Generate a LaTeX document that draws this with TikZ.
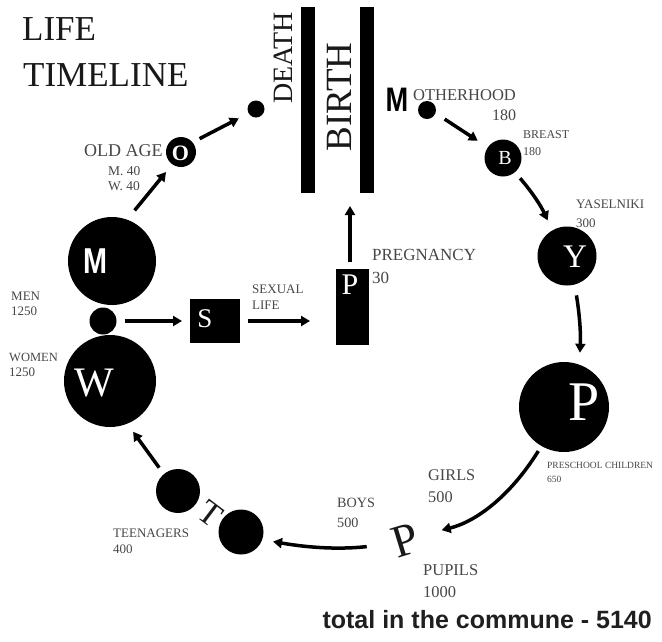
\documentclass[tikz,border=0pt]{standalone}
\usepackage{fontspec}
\setmainfont{Liberation Serif}
\newfontfamily\lsans{Liberation Sans}
\usetikzlibrary{arrows.meta}
\newcommand{\fsz}[1]{\fontsize{#1}{#1}\selectfont}
\begin{document}
\begin{tikzpicture}[x=1pt,y=-1pt,
  blob/.style={circle,fill=black,inner sep=0pt,outer sep=0pt},
  bar/.style={fill=black,inner sep=0pt,outer sep=0pt},
  wl/.style={text=white,inner sep=0pt},
  big/.style={text=black!90,inner sep=0pt},
  arr/.style={line width=3.5pt,-{Triangle[length=9pt,width=10pt]}},
  lab/.style={text=black!72,inner sep=0pt,anchor=base west},
]
\useasboundingbox[fill=white] (0,0) rectangle (662,641);

% title
\node[big,anchor=base west] (t1) at (22,40) {\fsz{35}LIFE};
\node[big,anchor=base west] (t2) at (23,86) {\fsz{35}TIMELINE};

% birth / death bars
\node[bar,minimum width=14pt,minimum height=186pt] (bar1) at (308,100) {};
\node[bar,minimum width=14pt,minimum height=186pt] (bar2) at (367,100) {};
\node[big,rotate=90] (death) at (283,58) {\fsz{28}DEATH};
\node[big,rotate=90] (birth) at (339,97) {\fsz{37}BIRTH};
\coordinate (gate) at (350,193);

% circles and letters
\node[blob,minimum size=17pt] (ddot) at (256,109) {};
\node[blob,minimum size=30pt] (ocirc) at (181,152) {};
\node[wl] (olet) at (180.5,153) {\bfseries\fsz{22}O};
\node[blob,minimum size=88pt] (mcirc) at (112,261) {};
\node[wl,xscale=0.8] (mlet) at (95,261) {\lsans\bfseries\fsz{36}M};
\node[blob,minimum size=27pt] (mwdot) at (103,321) {};
\node[blob,minimum size=92pt] (wcirc) at (110,381) {};
\node[wl] (wlet) at (94,383) {\fsz{42}W};
\node[bar,minimum width=50pt,minimum height=44pt] (sbox) at (215,321) {};
\node[wl] (slet) at (205,319) {\fsz{27}S};
\node[bar,minimum width=33pt,minimum height=76pt] (prect) at (352.5,307) {};
\node[wl] (plet) at (350,285) {\fsz{30}P};
\node[inner sep=0pt,xscale=0.8] (mbig) at (397,100) {\lsans\bfseries\fsz{34}M};
\node[blob,minimum size=18pt] (mdot) at (427,110) {};
\node[blob,minimum size=37pt] (bcirc) at (503,158) {};
\node[wl] (blet) at (505,158) {\fsz{20}B};
\node[blob,minimum size=59pt] (ycirc) at (567,256) {};
\node[wl] (ylet) at (575,257) {\fsz{33}Y};
\node[blob,minimum size=90pt] (pcirc) at (564,407) {};
\node[wl] (pbig) at (584,402) {\fsz{56}P};
\node[big,rotate=17] (pupP) at (405,540) {\fsz{46}P};
\node[blob,minimum size=45pt] (tcircR) at (241,532) {};
\node[blob,minimum size=44pt] (tcircL) at (178,491) {};
\node[big,rotate=-37] (tlet) at (210,514) {\fsz{34}T};

% labels
\node[lab] (oldage) at (84,156) {\fsz{18}OLD AGE};
\node[lab] (oldm) at (108,175) {\fsz{13.5}M. 40};
\node[lab] (oldw) at (108,190) {\fsz{13.5}W. 40};
\node[lab] (men) at (11,300) {\fsz{13}MEN};
\node[lab] (menn) at (11,315) {\fsz{13}1250};
\node[lab] (women) at (9,361) {\fsz{12.5}WOMEN};
\node[lab] (womenn) at (9,376) {\fsz{13}1250};
\node[lab] (sex1) at (252,293) {\fsz{13}SEXUAL};
\node[lab] (sex2) at (252,309) {\fsz{13}LIFE};
\node[lab] (preg) at (372,260) {\fsz{17}PREGNANCY};
\node[lab] (pregn) at (372,283) {\fsz{17}30};
\node[lab] (moth) at (413,100) {\fsz{16.5}OTHERHOOD};
\node[lab] (mothn) at (492,120) {\fsz{16}180};
\node[lab] (breast) at (523,138) {\fsz{12}BREAST};
\node[lab] (breastn) at (523,155) {\fsz{12}180};
\node[lab] (yas) at (576,208) {\fsz{13}YASELNIKI};
\node[lab] (yasn) at (576,227) {\fsz{13}300};
\node[lab] (pre) at (547,468) {\fsz{9.5}PRESCHOOL CHILDREN};
\node[lab] (pren) at (547,482) {\fsz{9.5}650};
\node[lab] (girls) at (428,480) {\fsz{16.3}GIRLS};
\node[lab] (girlsn) at (428,502) {\fsz{16.3}500};
\node[lab] (boys) at (337,507) {\fsz{14.2}BOYS};
\node[lab] (boysn) at (337,527) {\fsz{14.2}500};
\node[lab] (pup) at (423,575) {\fsz{16.5}PUPILS};
\node[lab] (pupn) at (423,597) {\fsz{16.5}1000};
\node[lab] (teen) at (113,537) {\fsz{13}TEENAGERS};
\node[lab] (teenn) at (113,553) {\fsz{13}400};

\node[anchor=base east,inner sep=0pt,text=black!88] (total) at (652,628) {\lsans\bfseries\fsz{25}total in the commune - 5140};

% connectors
\draw[arr,shorten <=8pt,shorten >=8pt] (mwdot) -- (sbox);
\draw[arr,shorten <=8pt,shorten >=26pt] (sbox.east) -- (sbox.east -| prect.west);
\draw[arr,shorten <=7pt,shorten >=13pt] (prect.north -| gate) -- (gate);
\draw[arr,shorten <=12pt,shorten >=10pt] (mcirc.70) -- (ocirc.235);
\draw[arr,shorten <=8pt,shorten >=11pt] (ocirc.40) -- (ddot.210);
\draw[arr,shorten <=11pt,shorten >=12pt] (mdot.-20) -- (bcirc.145);
\draw[arr,shorten <=8pt,shorten >=11pt] (bcirc.-50) to[bend left=8] (ycirc.120);
\draw[arr,shorten <=11pt,shorten >=12pt] (ycirc.-75) to[bend left=6] (pcirc.70);
\draw[arr,shorten <=6pt,shorten >=25pt] (pcirc.-120) to[bend left=22] (pupP.east);
\draw[arr,shorten <=26pt,shorten >=11pt] (pupP.west) to[bend left=8] (tcircR.-20);
\draw[arr,shorten <=8pt,shorten >=10pt] (tcircL.130) -- (wcirc.-68);
\end{tikzpicture}
\end{document}
